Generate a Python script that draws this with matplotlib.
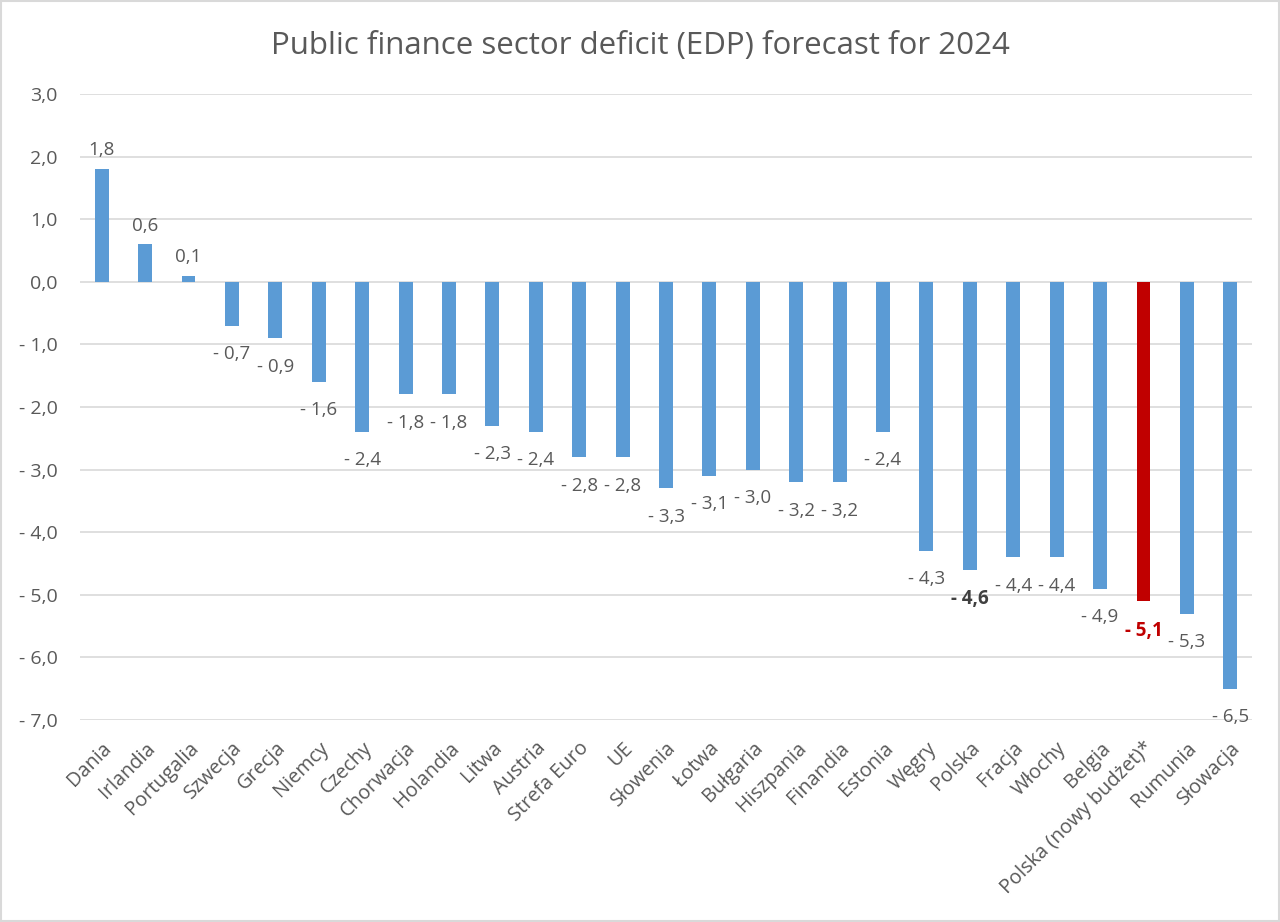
import matplotlib
matplotlib.use("Agg")
import matplotlib.pyplot as plt
from matplotlib.patches import Rectangle

categories = ["Dania", "Irlandia", "Portugalia", "Szwecja", "Grecja", "Niemcy", "Czechy",
              "Chorwacja", "Holandia", "Litwa", "Austria", "Strefa Euro", "UE", "Słowenia",
              "Łotwa", "Bułgaria", "Hiszpania", "Finandia", "Estonia", "Węgry", "Polska",
              "Fracja", "Włochy", "Belgia", "Polska (nowy budżet)*", "Rumunia", "Słowacja"]
values = [1.8, 0.6, 0.1, -0.7, -0.9, -1.6, -2.4, -1.8, -1.8, -2.3, -2.4, -2.8, -2.8, -3.3,
          -3.1, -3.0, -3.2, -3.2, -2.4, -4.3, -4.6, -4.4, -4.4, -4.9, -5.1, -5.3, -6.5]
highlight = "Polska (nowy budżet)*"
bold_labels = ["Polska", "Polska (nowy budżet)*"]
yticks = [3, 2, 1, 0, -1, -2, -3, -4, -5, -6, -7]
title = "Public finance sector deficit (EDP) forecast for 2024"

FONT = ["Open Sans", "DejaVu Sans"]
plt.rcParams['font.family'] = FONT
TXT = "#595959"
BLUE = "#5B9BD5"
RED = "#C00000"


def fmt(v):
    s = f"{abs(v):.1f}".replace(".", ",")
    return ("- " + s) if v < 0 else s


fig = plt.figure(figsize=(12.8, 9.22), dpi=100)
ax = fig.add_axes([80 / 1280, 1 - 720 / 922, (1252 - 80) / 1280, (720 - 94) / 922])

x = list(range(len(categories)))
colors = [RED if c == highlight else BLUE for c in categories]
ax.bar(x, values, width=0.32, color=colors, zorder=3)

ax.set_xlim(-0.5, len(categories) - 0.5)
ax.set_ylim(-7, 3)
ax.set_yticks(yticks)
ax.set_yticklabels([fmt(t) for t in yticks], fontsize=14, color=TXT)
ax.yaxis.grid(True, color="#d9d9d9", linewidth=1.2, zorder=0)
ax.tick_params(axis="y", length=0, pad=16)
ax.tick_params(axis="x", length=0, pad=13)
for s in ax.spines.values():
    s.set_visible(False)

ax.set_xticks(x)
ax.set_xticklabels(categories, rotation=45, ha="right", va="top",
                   rotation_mode="anchor", fontsize=14.3, color=TXT)

for xi, v, c in zip(x, values, categories):
    bold = c in bold_labels
    col = RED if c == highlight else ("#404040" if bold else TXT)
    if v >= 0:
        ax.annotate(fmt(v), (xi, v), xytext=(0, 7), textcoords="offset points",
                    ha="center", va="bottom", fontsize=13.5, color=col,
                    fontweight="bold" if bold else "normal")
    else:
        ax.annotate(fmt(v), (xi, v), xytext=(0, -14), textcoords="offset points",
                    ha="center", va="top", fontsize=13.5, color=col,
                    fontweight="bold" if bold else "normal")

fig.text(0.5, 1 - 46 / 922, title, ha="center", va="center", fontsize=22.5, color=TXT)

fig.patches.append(Rectangle((0.001, 0.001), 0.998, 0.998, transform=fig.transFigure,
                             fill=False, edgecolor="#d9d9d9", linewidth=1.5))

fig.savefig("out.png", dpi=100)
